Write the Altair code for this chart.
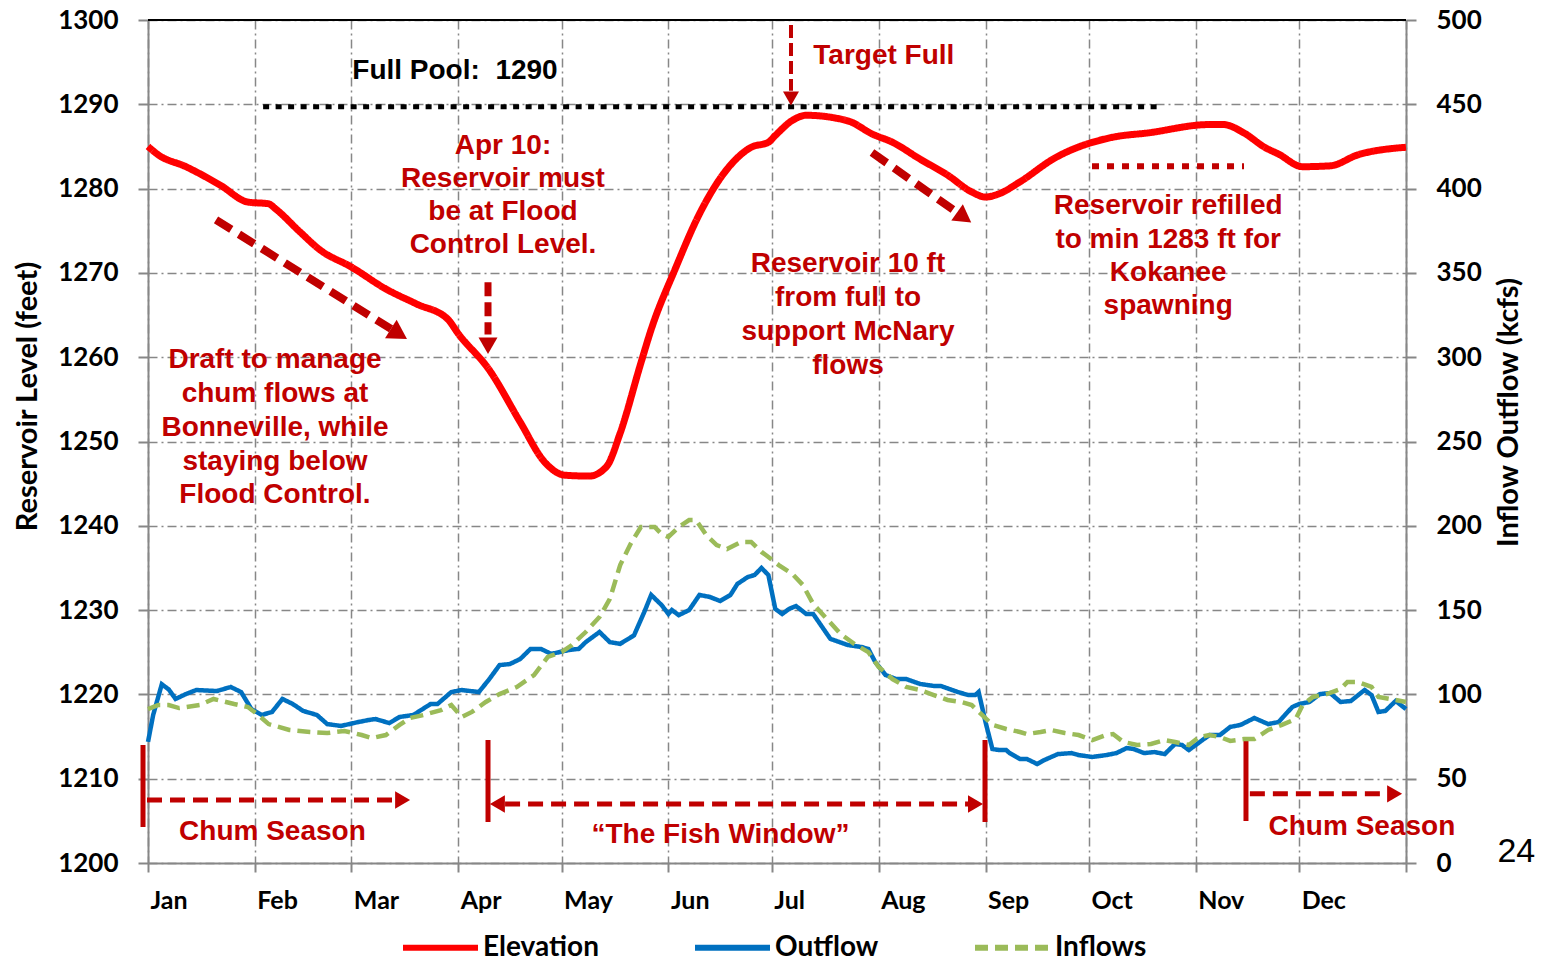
import altair as alt
import pandas as pd

# ---------------- data ----------------
ELEV_DAYS = [0, 3, 11, 21, 29, 35, 37, 44, 50, 59, 69, 78, 87, 90, 99, 108, 115, 121, 128, 133,
             137, 143, 146, 153, 160, 168, 175, 180, 182, 187, 191, 199, 204, 210, 216, 224, 232,
             239, 243, 247, 253, 263, 280, 290, 308, 312, 318, 324, 328, 335, 343, 351, 362, 365]
ELEV_FT = [1285.0, 1284.0, 1282.6, 1280.4, 1278.4, 1278.2, 1277.6, 1274.9, 1272.7, 1270.7,
           1268.1, 1266.3, 1264.5, 1262.8, 1258.5, 1252.3, 1247.6, 1246.0, 1245.9, 1247.0,
           1251.0, 1259.3, 1263.3, 1270.5, 1277.0, 1282.3, 1284.9, 1285.5, 1286.3, 1288.1,
           1288.7, 1288.4, 1287.9, 1286.5, 1285.5, 1283.5, 1281.6, 1279.6, 1279.0, 1279.4,
           1280.8, 1283.6, 1286.1, 1286.6, 1287.6, 1287.6, 1286.6, 1284.9, 1284.1, 1282.6,
           1282.7, 1284.0, 1284.8, 1284.9]

OUT_DAYS = [0, 1.5, 4, 6, 8, 11, 14, 20, 24, 27, 30, 33, 36, 39, 42, 45, 49, 52, 56, 61,
            64, 66, 70, 73, 77, 82, 84, 88, 91, 96, 99, 102, 105, 108, 111, 114, 117, 122, 125, 127,
            131, 134, 137, 141, 144, 146, 149, 151, 152, 154, 157, 160, 163, 166, 169, 171, 174, 176, 178, 180,
            182, 184, 186, 188, 191, 193, 196, 198, 203, 207, 209, 211, 214, 217, 220, 224, 228, 230, 235, 238,
            240, 241, 243, 245, 247, 249, 250, 253, 255, 258, 260, 264, 268, 270, 274, 278, 281, 284, 286, 289,
            292, 295, 298, 300, 302, 306, 308, 311, 314, 317, 321, 325, 328, 332, 334, 337, 340, 343, 346, 349,
            353, 355, 357, 359, 362, 365]
OUT_KCFS = [71.8, 87.8, 106, 103, 97.3, 100.2, 102.6, 102, 104.4, 101.4,
            91.3, 87.8, 89.6, 97.3, 94.3, 90.2, 87.8, 82.4, 81.3, 83.6,
            84.8, 85.4, 83, 86.6, 87.8, 94.3, 94.3, 101.4, 102.6, 101.4,
            109, 117.4, 118, 121, 127, 127, 124, 126.3, 127, 131,
            137, 131, 130, 135, 148.9, 159, 153, 147.7, 150, 147,
            150, 159, 157.8, 155.4, 159, 165.5, 169.6, 170.8, 175, 170.8,
            150.7, 147.7, 150.7, 152.4, 147.7, 147.7, 138.8, 132.9, 129.3, 128.1,
            127, 119.2, 111.5, 109.1, 109.1, 106.2, 105, 105, 101.4, 99.6,
            99.6, 101.4, 83.6, 67.6, 67, 67, 65.2, 61.7, 61.7, 58.7,
            61, 64.6, 65.2, 64, 62.9, 64, 65.2, 68.2, 67.6, 65.2,
            65.8, 64.6, 70.6, 70, 67, 73, 75.9, 75.9, 80.7, 81.9,
            86, 82.4, 83.6, 92.5, 94.3, 95.5, 100.2, 100.8, 95.5, 96.1,
            102.6, 99.6, 89.6, 90.2, 96.1, 91.3]

IN_DAYS = [0, 3, 6, 9, 15, 19, 25, 29, 32, 35, 41, 47, 52, 57, 62, 65, 69, 73, 76, 80,
           85, 88, 91, 94, 98, 102, 107, 112, 116, 120, 123, 127, 131, 134, 137, 140, 143, 147, 149, 151,
           154, 157, 159, 162, 165, 168, 172, 175, 178, 180, 183, 187, 190, 193, 197, 201, 205, 209, 212, 216,
           220, 224, 228, 232, 236, 239, 242, 245, 249, 253, 255, 259, 262, 266, 270, 274, 278, 280, 283, 287,
           291, 295, 298, 302, 305, 308, 311, 314, 318, 321, 325, 329, 333, 335, 338, 342, 346, 348, 351, 355,
           357, 362, 365]
IN_KCFS = [91.3, 93.7, 93.7, 91.9, 93.7, 97.3, 94.3, 92.5, 87.8, 82.4,
           78.9, 77.7, 77.1, 78.3, 75.9, 74.1, 75.9, 81.9, 86, 87.8,
           90.7, 93.7, 86.6, 89.6, 95.5, 100.2, 104.4, 111.5, 122.2, 125.1,
           129.3, 137, 145.9, 156.6, 176.7, 189.2, 199.3, 199.3, 195.1, 193.4,
           199.3, 203.4, 203.4, 194.5, 188.6, 186.2, 190.4, 190.4, 184.5, 181.5,
           176.7, 171.4, 164.9, 153.6, 144.7, 135.8, 129.9, 125.1, 116.3, 109.1,
           104.4, 102.6, 99.6, 96.7, 95.5, 93.7, 87.8, 81.9, 79.5, 77.7,
           76.5, 77.7, 78.9, 77.1, 75.9, 72.9, 75.9, 76.5, 71.8, 70,
           70.6, 72.9, 71.8, 70, 74.7, 75.9, 74.7, 72.4, 73.5, 73.5,
           78.9, 81.9, 85.4, 93.7, 98.5, 100.2, 103.2, 107.4, 107.4, 104.4,
           98.5, 96.7, 95.5]

SERIES = ["Elevation", "Outflow", "Inflows"]
MONTH_STARTS = [0, 31, 59, 90, 120, 151, 181, 212, 243, 273, 304, 334, 365]
ELEV_TICKS = list(range(1200, 1301, 10))
FLOW_TICKS = list(range(0, 501, 50))

# annotations (in day-of-year / feet coordinates)
RED_TEXT = ["Target Full",
            "Apr 10:", "Reservoir must", "be at Flood", "Control Level.",
            "Draft to manage", "chum flows at", "Bonneville, while", "staying below", "Flood Control.",
            "Reservoir 10 ft", "from full to", "support McNary", "flows",
            "Reservoir refilled", "to min 1283 ft for", "Kokanee", "spawning",
            "Chum Season", "\u201cThe Fish Window\u201d", "Chum Season"]
RED_TEXT_DAY = [213.5,
                103.0, 103.0, 103.0, 103.0,
                36.85, 36.85, 36.85, 36.85, 36.85,
                203.1, 203.1, 203.1, 203.1,
                296.0, 296.0, 296.0, 296.0,
                36.1, 166.1, 352.2]
RED_TEXT_FT = [1295.7,
               1285.05, 1281.1, 1277.2, 1273.3,
               1259.67, 1255.64, 1251.6, 1247.57, 1243.65,
               1271.06, 1267.02, 1262.99, 1258.96,
               1277.94, 1273.96, 1269.99, 1266.1,
               1203.62, 1203.32, 1204.27]
BLACK_TEXT = ["Full Pool:\u00a0 1290"]
BLACK_TEXT_DAY = [89.07]
BLACK_TEXT_FT = [1293.95]
PAGE_TEXT = ["24"]
PAGE_DAY = [397.0]
PAGE_FT = [1201.25]

FULL_POOL = dict(day=[33.4], day2=[293.0], ft=[1289.7])
KOKANEE = dict(day=[273.9], day2=[318.0], ft=[1282.64])
TOP = dict(day=[0], day2=[365], ft=[1300])
TARGET_SHAFT = dict(day=[186.56], ft=[1299.4], ft2=[1291.6])
APR_SHAFT = dict(day=[98.65], ft=[1268.9], ft2=[1262.7])
DIAG_SHAFTS = dict(day=[19.73, 210.06], day2=[70.5, 234.7], ft=[1276.28, 1284.28], ft2=[1263.35, 1277.18])
SEASON_SHAFTS = dict(day=[-0.29, 103.6, 319.7], day2=[71.66, 238.5, 358.9], ft=[1207.47, 1207.0, 1208.2])
BARS = dict(day=[-1.45, 98.65, 242.85, 318.57], ft=[1214.0, 1214.59, 1214.59, 1214.59],
            ft2=[1204.27, 1204.86, 1204.86, 1204.98])
HEAD_DOWN_SMALL = dict(day=[186.56], ft=[1290.69])
HEAD_DOWN_BIG = dict(day=[98.65], ft=[1261.35])
HEAD_DIAG1 = dict(day=[72.8], ft=[1262.75])
HEAD_DIAG2 = dict(day=[236.8], ft=[1276.58])
HEAD_RIGHT = dict(day=[73.87, 240.1, 361.7], ft=[1207.47, 1207.0, 1208.2])
HEAD_LEFT = dict(day=[101.37], ft=[1207.0])

# ---------------- helpers ----------------
BASE = pd.Timestamp("2013-01-01", tz="UTC")


def iso(days):
    return [(BASE + pd.to_timedelta(float(d), unit="D")).strftime("%Y-%m-%dT%H:%M:%SZ") for d in days]


def ms(d):
    return int((BASE + pd.to_timedelta(float(d), unit="D")).timestamp() * 1000)


def frame(spec):
    out = {}
    for k, v in spec.items():
        if k.startswith("day"):
            out[k.replace("day", "date")] = iso(v)
        else:
            out[k.replace("ft", "elev")] = v
    return pd.DataFrame(out)


GRID = "#878787"
DARKRED = "#C00000"
AXFONT = "Lato"
ANNFONT = "Liberation Sans"

X_SCALE = alt.Scale(type="utc", domain=[ms(0), ms(365)], nice=False)
X_AXIS = alt.Axis(values=[ms(d) for d in MONTH_STARTS],
                  labelExpr=f"datum.value >= {ms(365)} ? '' : utcFormat(datum.value, '%b')",
                  title=None, grid=True, gridColor=GRID, gridDash=[9, 4, 2, 4], gridWidth=1.5,
                  tickSize=9, tickColor=GRID, tickWidth=2, domainColor=GRID, domainWidth=2,
                  labelAlign="left", labelOffset=2, labelPadding=16, labelFont=AXFONT,
                  labelFontSize=25, labelFontWeight="bold", labelColor="black",
                  labelOverlap=False, labelFlush=False, labelBound=False)

E_SCALE = alt.Scale(domain=[1200, 1300], nice=False, zero=False)
E_AXIS = alt.Axis(values=ELEV_TICKS, format="d", orient="left", title="Reservoir Level (feet)",
                  grid=True, gridColor=GRID, gridDash=[9, 4, 2, 4], gridWidth=1.5,
                  tickSize=10, tickColor=GRID, tickWidth=2, domainColor=GRID, domainWidth=2,
                  labelPadding=20, labelFont=AXFONT, labelFontSize=26, labelFontWeight="bold",
                  labelColor="black", labelOverlap=False, labelFlush=False,
                  titleFont=AXFONT, titleFontSize=29, titleFontWeight="bold", titleColor="black",
                  titleX=-121, titleY=376, titleAngle=270, titleAlign="center", titleBaseline="middle")

F_SCALE = alt.Scale(domain=[0, 500], nice=False, zero=True)
F_AXIS = alt.Axis(values=FLOW_TICKS, format="d", orient="right", title="Inflow Outflow (kcfs)",
                  grid=False, tickSize=10, tickColor=GRID, tickWidth=2, domainColor=GRID, domainWidth=2,
                  labelPadding=20, labelFont=AXFONT, labelFontSize=26, labelFontWeight="bold",
                  labelColor="black", labelOverlap=False, labelFlush=False,
                  titleFont=AXFONT, titleFontSize=29, titleFontWeight="bold", titleColor="black",
                  titleX=102, titleY=392, titleAngle=270, titleAlign="center", titleBaseline="middle")

LEG = alt.Legend(title=None, orient="none", legendX=252, legendY=887, direction="horizontal",
                 symbolType="stroke", symbolSize=5625, symbolStrokeWidth=6,
                 labelFont=AXFONT, labelFontSize=28, labelFontWeight="bold", labelColor="black",
                 labelOffset=2, columnPadding=84, padding=0, labelLimit=0)
COLOR = alt.Color("series:N", scale=alt.Scale(domain=SERIES, range=["#FF0000", "#0070C0", "#9BBB59"]),
                  legend=LEG)
DASH = alt.StrokeDash("series:N", scale=alt.Scale(domain=SERIES, range=[[1, 0], [1, 0], [13, 7]]),
                      legend=LEG)


def X(f="date"):
    return alt.X(f"{f}:T", scale=X_SCALE, axis=X_AXIS)


def YE(f="elev"):
    return alt.Y(f"{f}:Q", scale=E_SCALE, axis=E_AXIS)


# ---------------- data frames ----------------
elev_df = pd.DataFrame({"date": iso(ELEV_DAYS), "elev": ELEV_FT, "series": "Elevation"})
flow_df = pd.concat([
    pd.DataFrame({"date": iso(OUT_DAYS), "kcfs": OUT_KCFS, "series": "Outflow"}),
    pd.DataFrame({"date": iso(IN_DAYS), "kcfs": IN_KCFS, "series": "Inflows"}),
], ignore_index=True)

red_df = pd.DataFrame({"date": iso(RED_TEXT_DAY), "elev": RED_TEXT_FT, "label": RED_TEXT})
black_df = pd.DataFrame({"date": iso(BLACK_TEXT_DAY), "elev": BLACK_TEXT_FT, "label": BLACK_TEXT})
page_df = pd.DataFrame({"date": iso(PAGE_DAY), "elev": PAGE_FT, "label": PAGE_TEXT})

# ---------------- layers ----------------
top_border = alt.Chart(frame(TOP)).mark_rule(color="black", strokeWidth=2).encode(
    x=X(), x2="date2:T", y=YE())
full_pool = alt.Chart(frame(FULL_POOL)).mark_rule(color="black", strokeWidth=5, strokeDash=[6, 6.5]).encode(
    x=X(), x2="date2:T", y=YE())
kokanee = alt.Chart(frame(KOKANEE)).mark_rule(color=DARKRED, strokeWidth=6, strokeDash=[7, 8]).encode(
    x=X(), x2="date2:T", y=YE())

elev_line = alt.Chart(elev_df).mark_line(strokeWidth=7, interpolate="monotone").encode(
    x=X(), y=YE(), color=COLOR, strokeDash=DASH)

red_text = alt.Chart(red_df).mark_text(font=ANNFONT, fontSize=28, fontWeight="bold", color=DARKRED,
                                       align="center", baseline="middle").encode(
    x=X(), y=YE(), text="label:N")
black_text = alt.Chart(black_df).mark_text(font=ANNFONT, fontSize=28, fontWeight="bold", color="black",
                                           align="center", baseline="middle").encode(
    x=X(), y=YE(), text="label:N")
page_text = alt.Chart(page_df).mark_text(font=ANNFONT, fontSize=34, color="black",
                                         align="center", baseline="middle").encode(
    x=X(), y=YE(), text="label:N")

target_shaft = alt.Chart(frame(TARGET_SHAFT)).mark_rule(color=DARKRED, strokeWidth=4, strokeDash=[13, 5]).encode(
    x=X(), y=YE(), y2="elev2:Q")
apr_shaft = alt.Chart(frame(APR_SHAFT)).mark_rule(color=DARKRED, strokeWidth=7, strokeDash=[14, 6]).encode(
    x=X(), y=YE(), y2="elev2:Q")
diag_shafts = alt.Chart(frame(DIAG_SHAFTS)).mark_rule(color=DARKRED, strokeWidth=8, strokeDash=[18, 9]).encode(
    x=X(), x2="date2:T", y=YE(), y2="elev2:Q")
season_shafts = alt.Chart(frame(SEASON_SHAFTS)).mark_rule(color=DARKRED, strokeWidth=5, strokeDash=[15, 8]).encode(
    x=X(), x2="date2:T", y=YE())
bars = alt.Chart(frame(BARS)).mark_rule(color=DARKRED, strokeWidth=5).encode(
    x=X(), y=YE(), y2="elev2:Q")


def head(spec, shape, size, angle=0):
    return alt.Chart(frame(spec)).mark_point(shape=shape, size=size, angle=angle, filled=True,
                                             color=DARKRED, opacity=1, strokeWidth=0).encode(x=X(), y=YE())


heads = [
    head(HEAD_DOWN_SMALL, "triangle-down", 256),
    head(HEAD_DOWN_BIG, "triangle-down", 360),
    head(HEAD_DIAG1, "triangle-right", 484, 31.9),
    head(HEAD_DIAG2, "triangle-right", 400, 35.3),
    head(HEAD_RIGHT, "triangle-right", 300),
    head(HEAD_LEFT, "triangle-left", 300),
]

elev_group = alt.layer(top_border, full_pool, kokanee, elev_line, red_text, black_text, page_text,
                       target_shaft, apr_shaft, diag_shafts, season_shafts, bars, *heads)

flow_lines = alt.Chart(flow_df).mark_line(strokeWidth=4.5).encode(
    x=X(), y=alt.Y("kcfs:Q", scale=F_SCALE, axis=F_AXIS), color=COLOR, strokeDash=DASH,
    detail="series:N")

chart = alt.layer(elev_group, flow_lines).resolve_scale(y="independent").properties(
    width=1258, height=843,
    autosize=alt.AutoSizeParams(type="none"),
    padding={"left": 140, "top": 12, "right": 130, "bottom": 96},
).configure_view(stroke=None)

chart.save("out.html", embed_options={"renderer": "svg", "actions": False})
